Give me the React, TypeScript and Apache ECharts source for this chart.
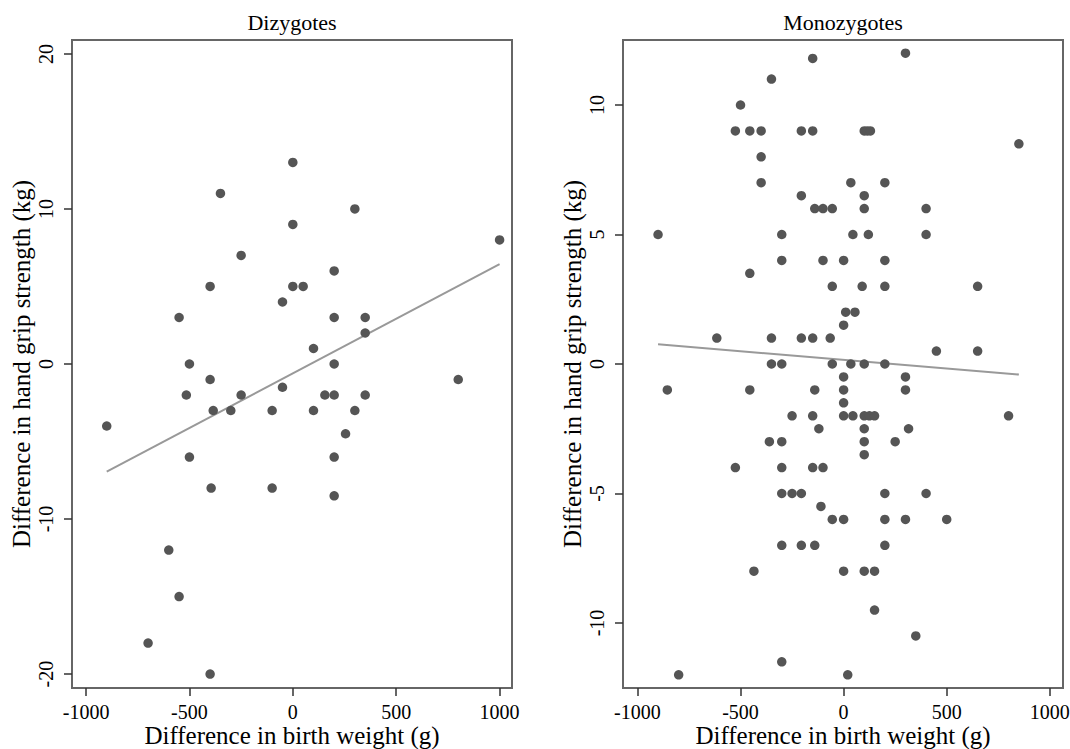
import React, { useEffect, useRef } from "react";
import * as echarts from "echarts";

// Dizygotes: difference in birth weight (g) vs difference in hand grip strength (kg)
const diX = [0, -350, 300, 0, 1000, -250, 200, -400, 0, 50, -50, -550, 200, 350, 350, 100, -500, 200, -400, 800, -515, -250, -50, 155, 200, 350, -385, -300, -100, 100, 300, -900, 255, -500, 200, -395, -100, 200, -600, -550, -700, -400];
const diY = [13, 11, 10, 9, 8, 7, 6, 5, 5, 5, 4, 3, 3, 3, 2, 1, 0, 0, -1, -1, -2, -2, -1.5, -2, -2, -2, -3, -3, -3, -3, -3, -4, -4.5, -6, -6, -8, -8, -8.5, -12, -15, -18, -20];
const diFitX = [-900, 1000];
const diFitY = [-6.94, 6.44];

// Monozygotes
const moX = [300, -150, -350, -500, -525, -455, -400, -205, -150, 100, 115, 130, 850, -400, -400, 35, 200, -205, 100, -140, -100, -55, 100, 400, -900, -300, 45, 120, 400, -100, -300, 0, 200, -455, -55, 90, 200, 650, 10, 55, 0, -615, -350, -205, -150, -65, 450, 650,
  -350, -300, -55, 35, 100, 200, 0, 300, -855, -455, -140, 0, 300, 0, -250, -150, 0, 45, 100, 125, 150, 800, -120, 100, 315, -360, -300, 100, 250, 100, -525, -300, -150, -100, -300, -250, -205, 200, 400, -110, -55, 0, 200, 300, 500, -300, -205, -140, 200, -435, 0, 100, 150, 150, 350, -300, -800, 20];
const moY = [12, 11.8, 11, 10, 9, 9, 9, 9, 9, 9, 9, 9, 8.5, 8, 7, 7, 7, 6.5, 6.5, 6, 6, 6, 6, 6, 5, 5, 5, 5, 5, 4, 4, 4, 4, 3.5, 3, 3, 3, 3, 2, 2, 1.5, 1, 1, 1, 1, 1, 0.5, 0.5,
  0, 0, 0, 0, 0, 0, -0.5, -0.5, -1, -1, -1, -1, -1, -1.5, -2, -2, -2, -2, -2, -2, -2, -2, -2.5, -2.5, -2.5, -3, -3, -3, -3, -3.5, -4, -4, -4, -4, -5, -5, -5, -5, -5, -5.5, -6, -6, -6, -6, -6, -7, -7, -7, -7, -8, -8, -8, -8, -9.5, -10.5, -11.5, -12, -12];
const moFitX = [-900, 850];
const moFitY = [0.76, -0.41];

const xTicks = [-1000, -500, 0, 500, 1000];
const diYTicks = [-20, -10, 0, 10, 20];
const moYTicks = [-10, -5, 0, 5, 10];

const titles = ["Dizygotes", "Monozygotes"];
const xName = "Difference in birth weight (g)";
const yName = "Difference in hand grip strength (kg)";

const FONT = "'Liberation Serif', 'Times New Roman', serif";

export default function App() {
  const ref = useRef<HTMLDivElement>(null);
  useEffect(() => {
    if (!ref.current) return;
    const chart = echarts.init(ref.current, undefined, { renderer: "svg" });
    const pair = (xs: number[], ys: number[]) => xs.map((x, i) => [x, ys[i]]);
    const fmt = (v: number) => String(v);
    const xAxisBase = (gridIndex: number, min: number, max: number) => ({
      type: "value" as const,
      gridIndex,
      min,
      max,
      splitLine: { show: false },
      axisLine: { show: false, onZero: false },
      axisTick: { show: true, length: 8, lineStyle: { color: "#333", width: 1.5 }, customValues: xTicks },
      axisLabel: { fontFamily: FONT, fontSize: 20, lineHeight: 20, color: "#000", margin: 14, customValues: xTicks, formatter: fmt },
      name: xName,
      nameLocation: "middle" as const,
      nameGap: 35,
      nameMoveOverlap: false,
      nameTextStyle: { fontFamily: FONT, fontSize: 25, lineHeight: 25, color: "#000" },
    });
    const yAxisBase = (gridIndex: number, min: number, max: number, ticks: number[]) => ({
      type: "value" as const,
      gridIndex,
      min,
      max,
      splitLine: { show: false },
      axisLine: { show: false, onZero: false },
      axisTick: { show: true, length: 8, lineStyle: { color: "#333", width: 1.5 }, customValues: ticks },
      axisLabel: { fontFamily: FONT, fontSize: 20, color: "#000", margin: 16, rotate: 90, customValues: ticks, formatter: fmt },
      name: yName,
      nameLocation: "middle" as const,
      nameGap: 38,
      nameMoveOverlap: false,
      nameTextStyle: { fontFamily: FONT, fontSize: 25, color: "#000" },
    });
    chart.setOption({
      animation: false,
      backgroundColor: "#fff",
      grid: [
        { left: 72, top: 40, width: 440, height: 648, show: true, borderColor: "#666", borderWidth: 2, backgroundColor: "transparent", outerBoundsMode: "none", containLabel: false },
        { left: 623, top: 40, width: 440, height: 648, show: true, borderColor: "#666", borderWidth: 2, backgroundColor: "transparent", outerBoundsMode: "none", containLabel: false },
      ],
      xAxis: [xAxisBase(0, -1068, 1060), xAxisBase(1, -1070, 1064)],
      yAxis: [yAxisBase(0, -20.9, 20.9, diYTicks), yAxisBase(1, -12.51, 12.51, moYTicks)],
      graphic: [
        { type: "text", x: 292, y: 22, style: { text: titles[0], font: `22px ${FONT}`, fill: "#000", align: "center", verticalAlign: "middle" } },
        { type: "text", x: 843, y: 22, style: { text: titles[1], font: `22px ${FONT}`, fill: "#000", align: "center", verticalAlign: "middle" } },
      ],
      series: [
        { type: "line", xAxisIndex: 0, yAxisIndex: 0, data: pair(diFitX, diFitY), symbol: "none", lineStyle: { color: "#999", width: 2 }, z: 1 },
        { type: "scatter", xAxisIndex: 0, yAxisIndex: 0, data: pair(diX, diY), symbolSize: 9.5, itemStyle: { color: "#555", opacity: 1 }, z: 2 },
        { type: "line", xAxisIndex: 1, yAxisIndex: 1, data: pair(moFitX, moFitY), symbol: "none", lineStyle: { color: "#999", width: 2 }, z: 1 },
        { type: "scatter", xAxisIndex: 1, yAxisIndex: 1, data: pair(moX, moY), symbolSize: 9.5, itemStyle: { color: "#555", opacity: 1 }, z: 2 },
      ],
    });
    return () => chart.dispose();
  }, []);
  return <div ref={ref} style={{ position: "fixed", left: 0, top: 0, width: 1070, height: 749 }} />;
}
